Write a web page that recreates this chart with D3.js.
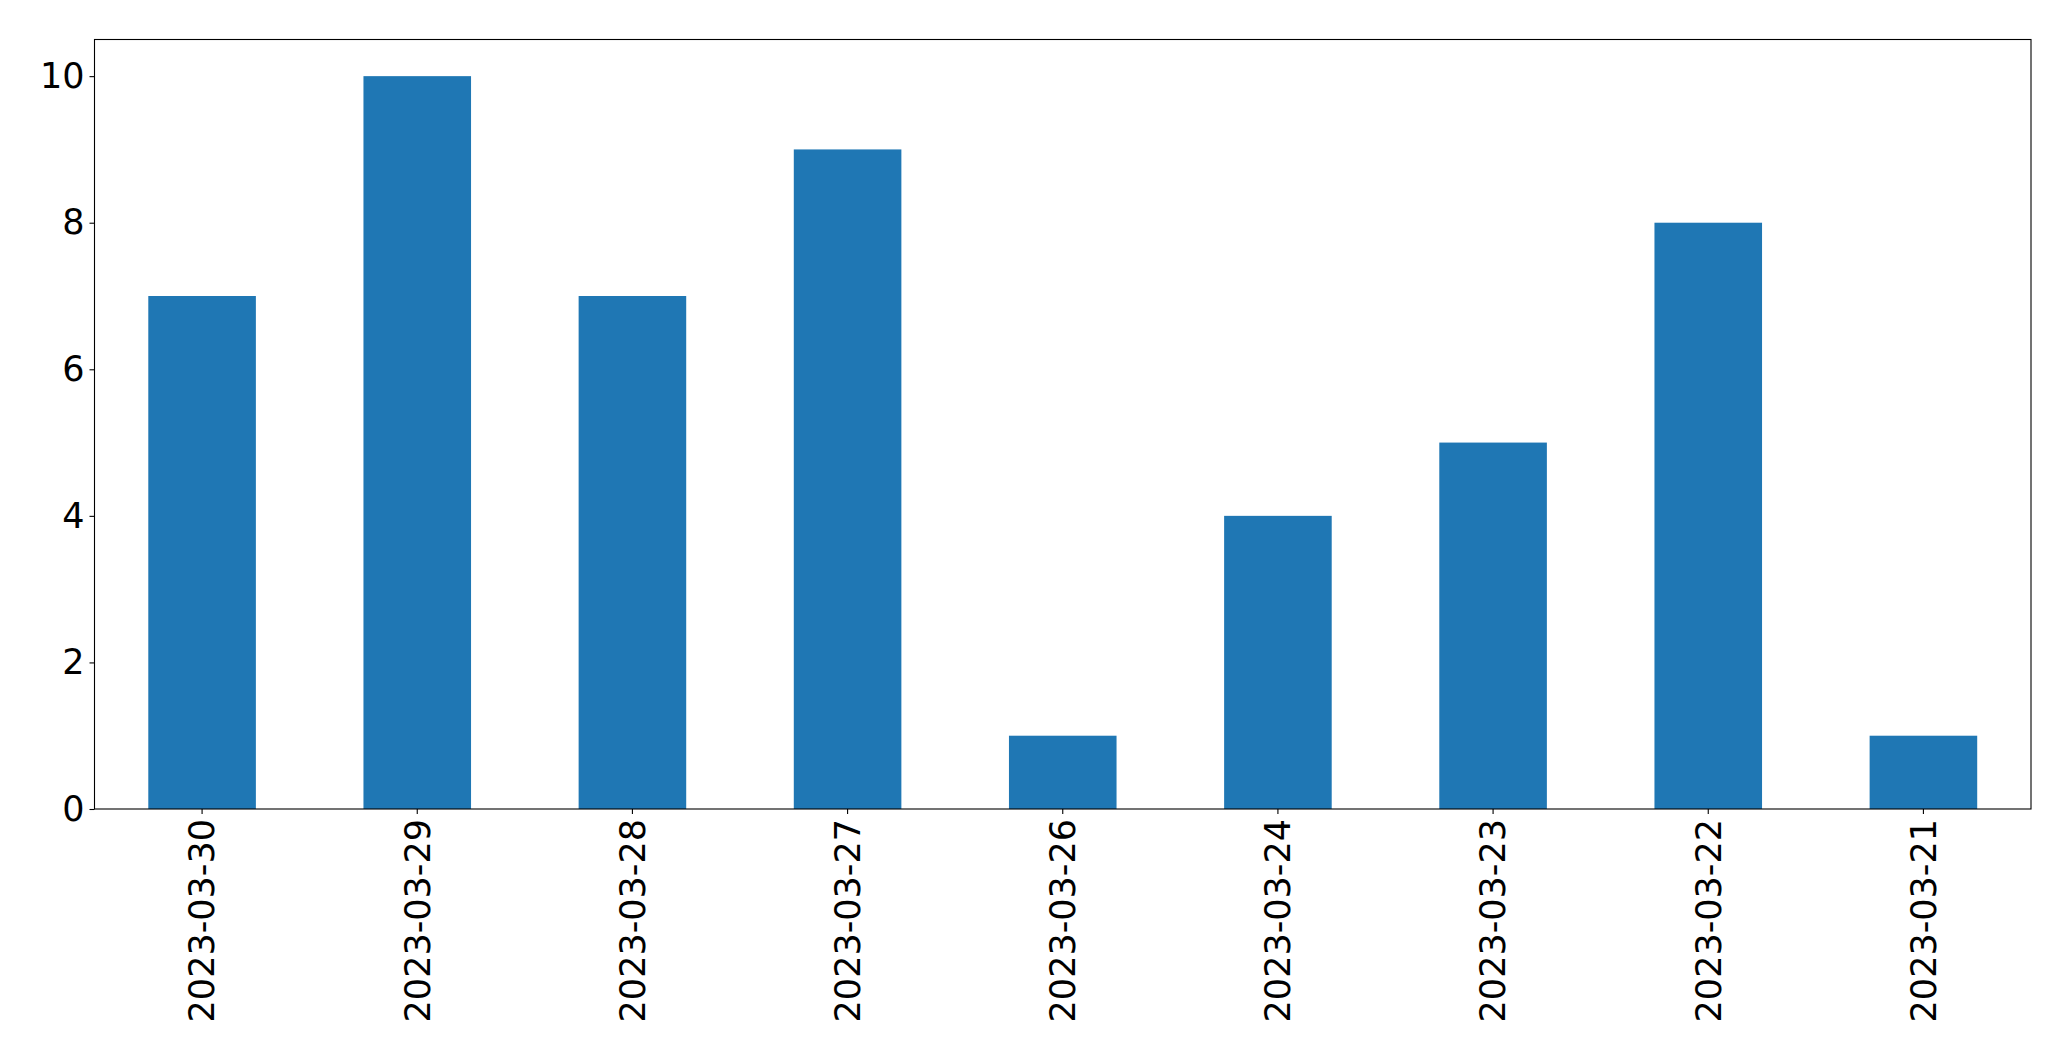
<!DOCTYPE html>
<html>
<head>
<meta charset="utf-8">
<script src="https://cdn.jsdelivr.net/npm/d3@7"></script>
<style>
html,body{margin:0;padding:0;background:#fff;}
svg{display:block;}
text{font-family:"DejaVu Sans",sans-serif;}
</style>
</head>
<body>
<svg id="chart" width="2071" height="1061"></svg>
<script>
const categories = ["2023-03-30","2023-03-29","2023-03-28","2023-03-27","2023-03-26","2023-03-24","2023-03-23","2023-03-22","2023-03-21"];
const values = [7, 10, 7, 9, 1, 4, 5, 8, 1];
const yTicks = [0, 2, 4, 6, 8, 10];

const W = 2071, H = 1061;
const margin = {left: 94.5, right: 2071 - 2031, top: 39.5, bottom: 1061 - 809};
const svg = d3.select("#chart");
const iw = W - margin.left - margin.right;
const ih = H - margin.top - margin.bottom;
const g = svg.append("g").attr("transform", `translate(${margin.left},${margin.top})`);

const x = d3.scaleBand().domain(categories).range([0, iw]).paddingInner(0.5).paddingOuter(0.25);
const y = d3.scaleLinear().domain([0, 10.5]).range([ih, 0]);

g.selectAll("rect.bar").data(values).enter().append("rect")
  .attr("class","bar")
  .attr("x", (d,i) => x(categories[i]))
  .attr("width", x.bandwidth())
  .attr("y", d => y(d))
  .attr("height", d => ih - y(d))
  .attr("fill", "#1f77b4");

const fs = 35;
const yAxis = g.append("g").call(d3.axisLeft(y).tickValues(yTicks).tickFormat(d3.format("d")).tickSize(5).tickPadding(5));
yAxis.select(".domain").remove();
yAxis.selectAll("line").attr("stroke","#000").attr("stroke-width",1.1);
yAxis.selectAll("text").attr("font-size", fs).attr("fill","#000").attr("font-family","DejaVu Sans");

const xAxis = g.append("g").attr("transform", `translate(0,${ih})`).call(d3.axisBottom(x).tickSize(5).tickPadding(5));
xAxis.select(".domain").remove();
xAxis.selectAll("line").attr("stroke","#000").attr("stroke-width",1.1);
xAxis.selectAll("text")
  .attr("font-size", fs).attr("fill","#000").attr("font-family","DejaVu Sans")
  .attr("transform","rotate(-90)")
  .attr("text-anchor","end")
  .attr("x", -10).attr("y", 0).attr("dy","0.35em");

g.append("rect").attr("x",0).attr("y",0).attr("width",iw).attr("height",ih)
  .attr("fill","none").attr("stroke","#000").attr("stroke-width",1.1);
</script>
</body>
</html>
